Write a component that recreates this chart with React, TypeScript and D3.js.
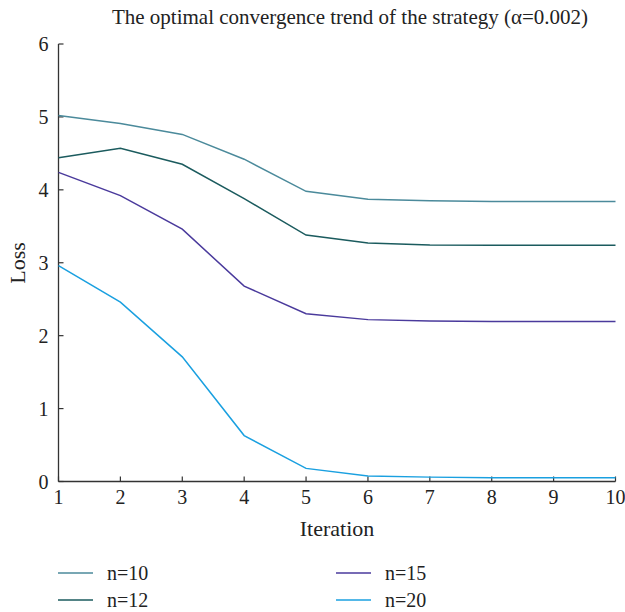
import React from "react";
import * as d3 from "d3";

const iterations = [1, 2, 3, 4, 5, 6, 7, 8, 9, 10];
const n10 = [5.02, 4.91, 4.76, 4.42, 3.98, 3.87, 3.85, 3.84, 3.84, 3.84];
const n12 = [4.44, 4.57, 4.35, 3.88, 3.38, 3.27, 3.245, 3.24, 3.24, 3.24];
const n15 = [4.24, 3.92, 3.46, 2.68, 2.3, 2.22, 2.2, 2.195, 2.195, 2.195];
const n20 = [2.96, 2.46, 1.71, 0.63, 0.18, 0.075, 0.06, 0.05, 0.05, 0.05];
const seriesNames = ["n=10", "n=12", "n=15", "n=20"];
const seriesColors = ["#4b8a9b", "#1b5b5e", "#4a3a9c", "#1aa0e0"];
const yTicks = [0, 1, 2, 3, 4, 5, 6];

export default function App() {
  const W = 625, H = 612;
  const left = 58.5, right = 615.5, top = 44, bottom = 481.5;
  const x = d3.scaleLinear().domain([1, 10]).range([left, right]);
  const y = d3.scaleLinear().domain([0, 6]).range([bottom, top]);
  const line = d3.line<number>().x((_, i) => x(iterations[i])).y((d) => y(d));
  const all = [n10, n12, n15, n20];
  const font = "'Liberation Serif', 'Times New Roman', serif";
  const legendPos = [
    { lx: 58, ly: 573 },
    { lx: 58, ly: 600 },
    { lx: 336, ly: 573 },
    { lx: 336, ly: 600 },
  ];
  return (
    <svg width={W} height={H} style={{ position: "absolute", left: 0, top: 0 }} fontFamily={font}>
      <rect width={W} height={H} fill="#fff" />
      <text x={350} y={24} textAnchor="middle" fontSize={21} fill="#222">
        The optimal convergence trend of the strategy (α=0.002)
      </text>
      <line x1={left} x2={left} y1={top} y2={bottom} stroke="#333" strokeWidth={1.3} />
      <line x1={left} x2={right} y1={bottom} y2={bottom} stroke="#333" strokeWidth={1.3} />
      {yTicks.map((t) => (
        <g key={"y" + t}>
          <line x1={left} x2={left + 5} y1={y(t)} y2={y(t)} stroke="#333" strokeWidth={1.2} />
          <text x={left - 10} y={y(t) + 7} textAnchor="end" fontSize={20} fill="#222">
            {t}
          </text>
        </g>
      ))}
      {iterations.map((t) => (
        <g key={"x" + t}>
          <line x1={x(t)} x2={x(t)} y1={bottom} y2={bottom - 5} stroke="#333" strokeWidth={1.2} />
          <text x={x(t)} y={504} textAnchor="middle" fontSize={20} fill="#222">
            {t}
          </text>
        </g>
      ))}
      <text x={337} y={536} textAnchor="middle" fontSize={22} fill="#222">
        Iteration
      </text>
      <text transform="translate(25,263) rotate(-90)" textAnchor="middle" fontSize={22} fill="#222">
        Loss
      </text>
      {all.map((s, i) => (
        <path key={i} d={line(s) || ""} fill="none" stroke={seriesColors[i]} strokeWidth={1.5} />
      ))}
      {seriesNames.map((name, i) => (
        <g key={name}>
          <line x1={legendPos[i].lx} x2={legendPos[i].lx + 35} y1={legendPos[i].ly} y2={legendPos[i].ly} stroke={seriesColors[i]} strokeWidth={1.5} />
          <text x={legendPos[i].lx + 49} y={legendPos[i].ly + 7} fontSize={20} fill="#222">
            {name}
          </text>
        </g>
      ))}
    </svg>
  );
}
